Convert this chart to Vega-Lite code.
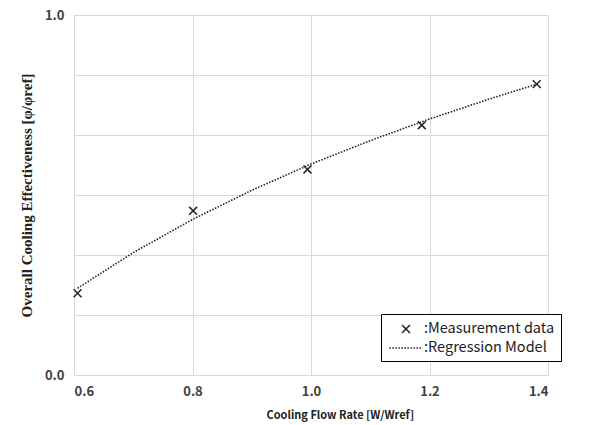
{
  "$schema": "https://vega.github.io/schema/vega-lite/v6.json",
  "width": 474,
  "height": 360,
  "autosize": {"type": "none"},
  "padding": {"left": 74, "top": 15, "right": 44, "bottom": 50},
  "background": "white",
  "config": {"view": {"stroke": null}},
  "datasets": {
    "measured": [
      {"x": 0.606, "y": 0.227, "series": "Measurement data"},
      {"x": 0.801, "y": 0.456, "series": "Measurement data"},
      {"x": 0.994, "y": 0.571, "series": "Measurement data"},
      {"x": 1.187, "y": 0.694, "series": "Measurement data"},
      {"x": 1.381, "y": 0.808, "series": "Measurement data"}
    ],
    "model": [
      {"x": 0.606, "y": 0.241, "series": "Regression Model"},
      {"x": 0.7, "y": 0.340, "series": "Regression Model"},
      {"x": 0.8, "y": 0.432, "series": "Regression Model"},
      {"x": 0.9, "y": 0.513, "series": "Regression Model"},
      {"x": 1.0, "y": 0.586, "series": "Regression Model"},
      {"x": 1.1, "y": 0.651, "series": "Regression Model"},
      {"x": 1.2, "y": 0.711, "series": "Regression Model"},
      {"x": 1.3, "y": 0.766, "series": "Regression Model"},
      {"x": 1.381, "y": 0.808, "series": "Regression Model"}
    ]
  },
  "encoding": {
    "x": {
      "field": "x", "type": "quantitative",
      "scale": {"domain": [0.6, 1.4], "nice": false, "zero": false},
      "axis": {
        "values": [0.6, 0.8, 1.0, 1.2, 1.4],
        "format": ".1f",
        "title": "Cooling Flow Rate [W/Wref]",
        "titleFont": "Noto Sans CJK KR", "titleFontSize": 11, "titleFontWeight": "bold", "titleColor": "#222222",
        "titleAnchor": "start", "titleX": 192, "titleY": 40, "titleBaseline": "middle",
        "labelFont": "Noto Sans CJK KR", "labelFontSize": 13, "labelFontWeight": "bold", "labelColor": "#404040",
        "labelPadding": 10,
        "ticks": false, "domain": false,
        "grid": true, "gridColor": "#d9d9d9", "gridWidth": 1
      }
    },
    "y": {
      "field": "y", "type": "quantitative",
      "scale": {"domain": [0, 1], "nice": false},
      "axis": {
        "values": [0, 0.16667, 0.33333, 0.5, 0.66667, 0.83333, 1],
        "labelExpr": "datum.value == 0 || datum.value == 1 ? format(datum.value, '.1f') : ''",
        "title": "Overall Cooling Effectiveness [φ/φref]",
        "titleFont": "Liberation Serif", "titleFontSize": 15, "titleFontWeight": "bold", "titleColor": "#222222",
        "titlePadding": 10,
        "labelFont": "Noto Sans CJK KR", "labelFontSize": 13, "labelFontWeight": "bold", "labelColor": "#404040",
        "labelPadding": 10,
        "ticks": false, "domain": false,
        "grid": true, "gridColor": "#d9d9d9", "gridWidth": 1
      }
    }
  },
  "layer": [
    {
      "data": {"name": "model"},
      "mark": {"type": "line", "color": "#222222", "strokeWidth": 1.6},
      "encoding": {
        "strokeDash": {
          "field": "series", "type": "nominal",
          "scale": {"domain": ["Measurement data", "Regression Model"], "range": [[1, 0], [1.5, 1.5]]},
          "legend": {
            "title": null,
            "orient": "none",
            "legendX": 307,
            "legendY": 299,
            "strokeColor": "#000000",
            "fillColor": "white",
            "padding": 6,
            "rowPadding": 3,
            "labelExpr": "':' + datum.label",
            "labelFont": "Noto Sans CJK KR",
            "labelFontSize": 14.5,
            "labelColor": "#222222",
            "labelOffset": 9,
            "symbolOffset": 10,
            "symbolSize": 250,
            "symbolStrokeColor": "#222222",
            "symbolStrokeWidth": 1.5
          }
        }
      }
    },
    {
      "data": {"name": "measured"},
      "mark": {"type": "point", "filled": false, "color": "#222222", "size": 250, "strokeWidth": 1.5, "opacity": 1},
      "encoding": {
        "shape": {
          "field": "series", "type": "nominal",
          "scale": {"domain": ["Measurement data", "Regression Model"], "range": ["M-0.5,-0.5L0.5,0.5M-0.5,0.5L0.5,-0.5", "M-2.1,0L2.1,0"]},
          "legend": {
            "title": null,
            "orient": "none",
            "legendX": 307,
            "legendY": 299,
            "strokeColor": "#000000",
            "fillColor": "white",
            "padding": 6,
            "rowPadding": 3,
            "labelExpr": "':' + datum.label",
            "labelFont": "Noto Sans CJK KR",
            "labelFontSize": 14.5,
            "labelColor": "#222222",
            "labelOffset": 9,
            "symbolOffset": 10,
            "symbolSize": 250,
            "symbolStrokeColor": "#222222",
            "symbolStrokeWidth": 1.5
          }
        }
      }
    }
  ]
}
